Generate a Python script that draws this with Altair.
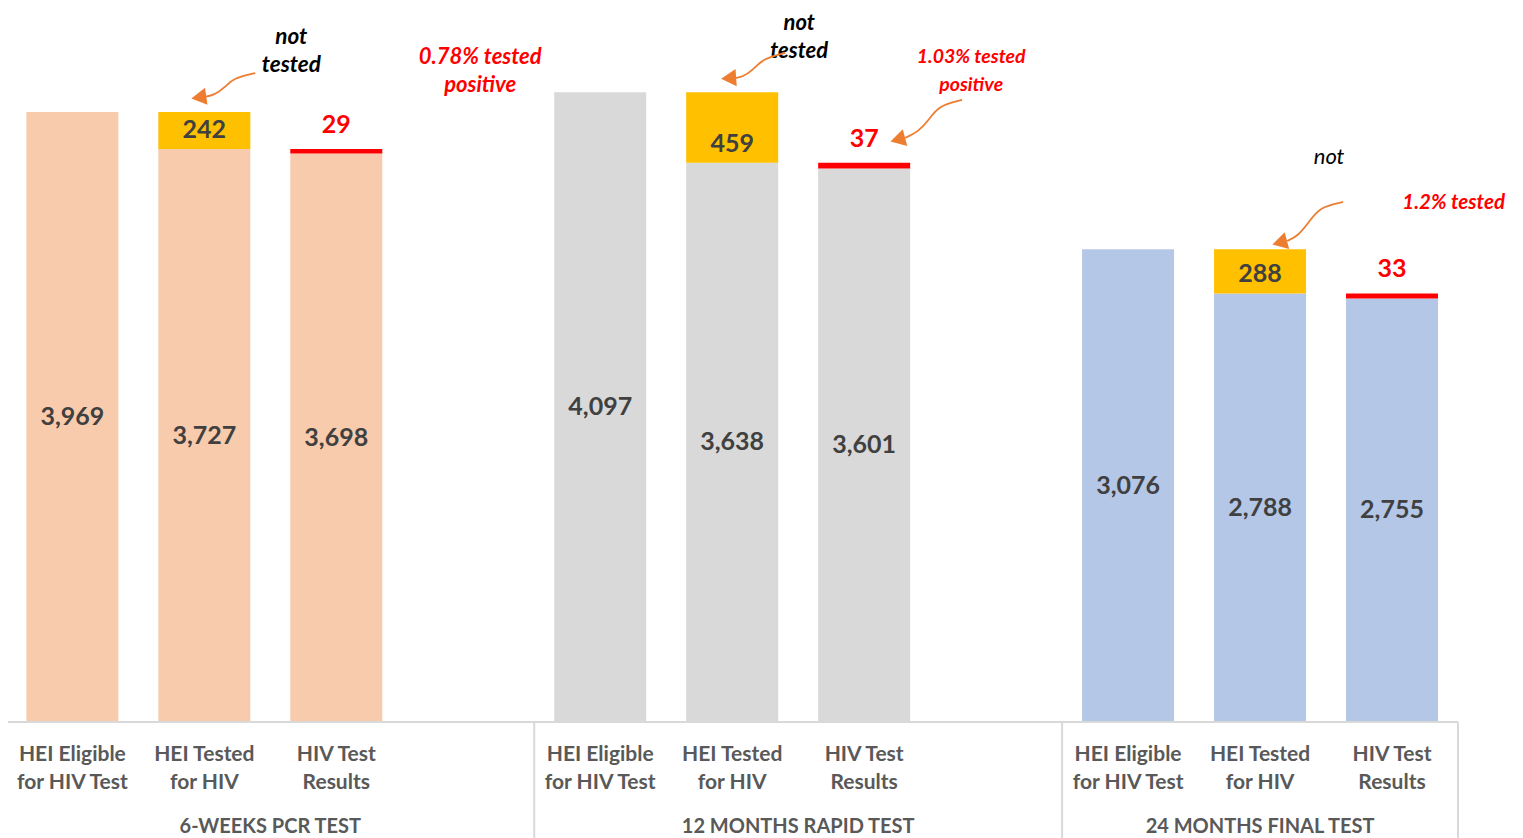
import altair as alt
import pandas as pd

# ---------------- data ----------------
groups = ["6-WEEKS PCR TEST", "12 MONTHS RAPID TEST", "24 MONTHS FINAL TEST"]
categories = ["HEI Eligible\nfor HIV Test", "HEI Tested\nfor HIV", "HIV Test\nResults"]
eligible = [3969, 4097, 3076]
tested = [3727, 3638, 2788]
not_tested = [242, 459, 288]
results = [3698, 3601, 2755]
positive = [29, 37, 33]
group_colors = ["#F8CBAD", "#D9D9D9", "#B4C7E7"]
NOT_TESTED_COLOR = "#FFC000"
POSITIVE_COLOR = "#FF0000"
ARROW_COLOR = "#ED7D31"
FONT = "Lato"

# annotation texts (anchored in data coordinates: slot index, value of first line)
ann_text = ["not\ntested", "0.78% tested\npositive", "not\ntested",
            "1.03% tested\npositive", "1.2% tested"]
ann_x = [1.659, 3.091, 5.508, 6.811, 10.467]
ann_y = [4457, 4326, 4548, 4326, 3377]
ann_color = ["#000000", "#FF0000", "#000000", "#FF0000", "#FF0000"]
ann_size = [22.5, 22, 22, 19.5, 20.5]
ann2_text = ["not"]
ann2_x = [9.523]
ann2_y = [3676]

# curved arrow paths (slot index, value)
arrow_x = [[1.386, 1.220, 1.152, 1.076, 1.000],
           [5.402, 5.227, 5.159, 5.076, 5.023],
           [6.742, 6.561, 6.492, 6.409, 6.311],
           [9.629, 9.455, 9.371, 9.288, 9.205]]
arrow_y = [[4222, 4190, 4125, 4079, 4066],
           [4353, 4313, 4242, 4196, 4190],
           [4047, 4008, 3917, 3839, 3800],
           [3383, 3351, 3253, 3162, 3129]]
head_x = [0.977, 4.992, 6.273, 9.167]
head_y = [4066, 4190, 3793, 3123]
head_angle = [262, 266, 255, 255]

# ---------------- tables ----------------
seg_rows, base_lab, top_lab, red_lab, cat_rows, grp_rows = [], [], [], [], [], []
for g in range(3):
    s0 = 4 * g
    seg_rows += [
        dict(slot=s0, y0=0, y1=eligible[g], key=groups[g]),
        dict(slot=s0 + 1, y0=0, y1=tested[g], key=groups[g]),
        dict(slot=s0 + 1, y0=tested[g], y1=tested[g] + not_tested[g], key="Not tested"),
        dict(slot=s0 + 2, y0=0, y1=results[g], key=groups[g]),
        dict(slot=s0 + 2, y0=results[g], y1=results[g] + positive[g], key="Positive"),
    ]
    base_lab += [dict(slot=s0, v=eligible[g]), dict(slot=s0 + 1, v=tested[g]),
                 dict(slot=s0 + 2, v=results[g])]
    top_lab.append(dict(slot=s0 + 1, base=tested[g], v=not_tested[g]))
    red_lab.append(dict(slot=s0 + 2, base=results[g], v=positive[g]))
    for j in range(3):
        cat_rows.append(dict(slot=s0 + j, text=categories[j]))
    grp_rows.append(dict(x=s0 + (1.5 if g < 2 else 1.0), text=groups[g]))

seg = pd.DataFrame(seg_rows)
base_df = pd.DataFrame(base_lab)
top_df = pd.DataFrame(top_lab)
red_df = pd.DataFrame(red_lab)
cat_df = pd.DataFrame(cat_rows)
grp_df = pd.DataFrame(grp_rows)
div_df = pd.DataFrame({"x": [-0.5, 3.5, 7.5, 10.5], "y": [0, 0, 0, 0]})
base_line = pd.DataFrame({"x": [-0.5], "x2": [10.5], "y": [0]})

ann_df = pd.DataFrame(dict(text=ann_text, x=ann_x, y=ann_y, color=ann_color, size=ann_size))
ann2_df = pd.DataFrame(dict(text=ann2_text, x=ann2_x, y=ann2_y))
arr_rows = []
for a in range(len(arrow_x)):
    for k in range(len(arrow_x[a])):
        arr_rows.append(dict(arrow=a, k=k, x=arrow_x[a][k], y=arrow_y[a][k]))
arr_df = pd.DataFrame(arr_rows)
head_df = pd.DataFrame(dict(x=head_x, y=head_y, angle=head_angle))

# ---------------- scales ----------------
W, H = 1500, 830
xs = alt.Scale(domain=[-0.4498, 10.841], nice=False, zero=False)
ys = alt.Scale(domain=[-755, 4645], nice=False, zero=False)
X = lambda f: alt.X(f, type="quantitative", scale=xs, axis=None)
Y = lambda f: alt.Y(f, type="quantitative", scale=ys, axis=None)

color_scale = alt.Scale(domain=groups + ["Not tested", "Positive"],
                        range=group_colors + [NOT_TESTED_COLOR, POSITIVE_COLOR])

bars = alt.Chart(seg).mark_bar(size=92).encode(
    x=X("slot"), y=Y("y0"), y2="y1",
    color=alt.Color("key:N", scale=color_scale, legend=None),
)

base_text = alt.Chart(base_df).transform_calculate(mid="datum.v / 2").mark_text(
    font=FONT, fontSize=25, fontWeight="bold", color="#404040", baseline="middle"
).encode(x=X("slot"), y=Y("mid"), text=alt.Text("v:Q", format=","))

top_text = alt.Chart(top_df).mark_text(
    font=FONT, fontSize=25, fontWeight="bold", color="#404040", baseline="middle", dy=-19
).encode(x=X("slot"), y=Y("base"), text=alt.Text("v:Q", format=","))

red_text = alt.Chart(red_df).transform_calculate(top="datum.base + datum.v").mark_text(
    font=FONT, fontSize=25, fontWeight="bold", color=POSITIVE_COLOR, baseline="middle", dy=-24
).encode(x=X("slot"), y=Y("top"), text=alt.Text("v:Q", format=","))

dividers = alt.Chart(div_df).mark_rule(color="#D9D9D9", strokeWidth=2).encode(
    x=X("x"), y=Y("y"), y2=alt.value(H)
)
hline = alt.Chart(base_line).mark_rule(color="#D9D9D9", strokeWidth=2).encode(
    x=X("x"), x2="x2", y=Y("y")
)

cat_text = alt.Chart(cat_df).transform_calculate(yy="-218").mark_text(
    font=FONT, fontSize=21, fontWeight="bold", color="#595959", baseline="middle",
    lineBreak="\n", lineHeight=28
).encode(x=X("slot"), y=Y("yy:Q"), text="text:N")

grp_text = alt.Chart(grp_df).transform_calculate(yy="-683").mark_text(
    font=FONT, fontSize=20, fontWeight="bold", color="#595959", baseline="middle"
).encode(x=X("x"), y=Y("yy:Q"), text="text:N")

ann = alt.Chart(ann_df).mark_text(
    font=FONT, fontWeight="bold", fontStyle="italic", baseline="middle",
    lineBreak="\n", lineHeight=28
).encode(x=X("x"), y=Y("y"), text="text:N",
         color=alt.Color("color:N", scale=None),
         size=alt.Size("size:Q", scale=None))

ann2 = alt.Chart(ann2_df).mark_text(
    font=FONT, fontStyle="italic", fontSize=22, color="#000000", baseline="middle"
).encode(x=X("x"), y=Y("y"), text="text:N")

arrows = alt.Chart(arr_df).mark_line(color=ARROW_COLOR, strokeWidth=1.8, interpolate="basis").encode(
    x=X("x"), y=Y("y"), detail="arrow:N", order="k:Q"
)
heads = alt.Chart(head_df).mark_point(
    shape="triangle", filled=True, color=ARROW_COLOR, opacity=1, size=300
).encode(x=X("x"), y=Y("y"), angle=alt.Angle("angle:Q", scale=None))

chart = alt.layer(
    bars, dividers, hline, base_text, top_text, red_text, cat_text, grp_text,
    ann, ann2, arrows, heads
).properties(
    width=W, height=H, padding=0,
    autosize=alt.AutoSizeParams(type="none")
).configure_view(stroke=None)

chart.save("out.html", embed_options={"renderer": "svg", "actions": False})
